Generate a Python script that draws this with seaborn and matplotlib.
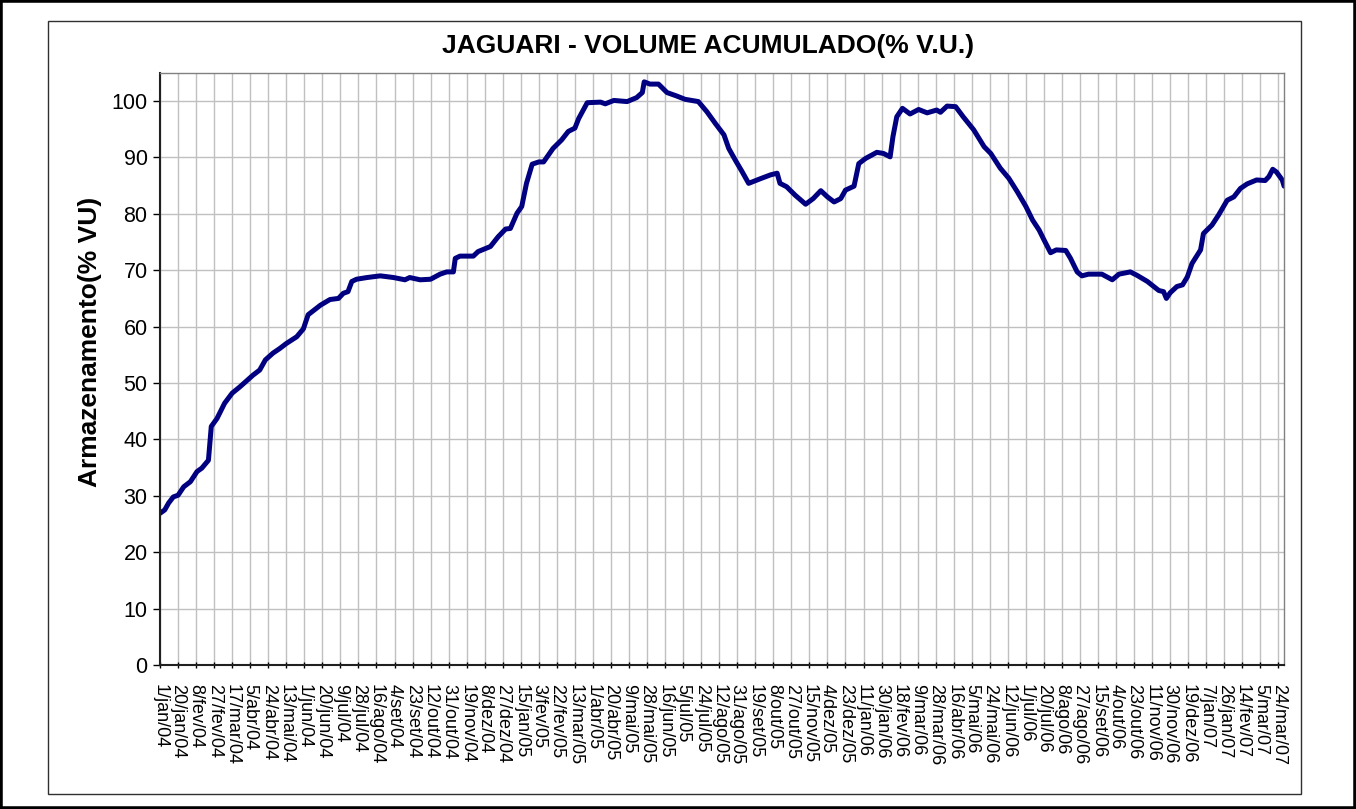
import pandas as pd
import matplotlib
matplotlib.use('Agg')
import matplotlib.pyplot as plt
import seaborn as sns
from matplotlib.patches import Rectangle

# dias desde 1/jan/04 e volume (% V.U.)
dias = [0, 5, 9, 14, 19, 25, 32, 39, 44, 51, 54, 60, 68, 76, 84, 98, 105, 111,
        119, 126, 133, 144, 151, 156, 169, 179, 188, 193, 198, 202, 207, 218,
        232, 246, 258, 263, 274, 285, 295, 302, 309, 311, 316, 330, 335, 348,
        356, 364, 369, 376, 381, 386, 392, 399, 404, 414, 423, 430, 437, 441,
        450, 464, 469, 478, 492, 502, 508, 510, 516, 525, 534, 544, 553, 567,
        576, 585, 594, 599, 606, 613, 620, 632, 643, 650, 653, 660, 669, 680,
        688, 696, 703, 710, 717, 722, 731, 736, 743, 755, 762, 769, 772, 776,
        782, 790, 799, 808, 818, 822, 829, 838, 846, 857, 868, 875, 885, 894,
        903, 912, 919, 926, 931, 938, 944, 954, 959, 966, 971, 978, 992, 1003,
        1010, 1022, 1029, 1040, 1052, 1057, 1060, 1064, 1071, 1077, 1082, 1087,
        1096, 1099, 1108, 1115, 1124, 1131, 1138, 1145, 1155, 1164, 1168, 1172,
        1176, 1182, 1184]
volume = [26.9, 27.5, 28.7, 29.8, 30.1, 31.6, 32.5, 34.3, 34.9, 36.3, 42.3, 43.7,
          46.4, 48.2, 49.3, 51.4, 52.3, 54.1, 55.3, 56.1, 57.0, 58.2, 59.6, 62.1,
          63.8, 64.8, 65.0, 65.9, 66.2, 68.0, 68.4, 68.7, 69.0, 68.7, 68.3, 68.7,
          68.3, 68.4, 69.3, 69.7, 69.7, 72.1, 72.5, 72.5, 73.3, 74.2, 75.9, 77.3,
          77.4, 80.1, 81.3, 85.4, 88.8, 89.2, 89.2, 91.6, 93.1, 94.6, 95.2, 96.9,
          99.7, 99.8, 99.5, 100.1, 99.9, 100.6, 101.5, 103.4, 103.0, 103.0, 101.5,
          100.9, 100.3, 99.9, 98.1, 96.0, 94.0, 91.6, 89.5, 87.5, 85.4, 86.2, 86.9,
          87.2, 85.4, 84.8, 83.3, 81.7, 82.7, 84.1, 83.0, 82.1, 82.7, 84.2, 84.9,
          88.9, 89.8, 90.9, 90.7, 90.1, 93.7, 97.2, 98.7, 97.7, 98.5, 97.9, 98.4,
          98.0, 99.1, 99.0, 97.2, 94.9, 91.9, 90.7, 88.1, 86.3, 83.9, 81.3, 78.9,
          77.1, 75.4, 73.1, 73.6, 73.5, 72.1, 69.7, 69.0, 69.3, 69.3, 68.3, 69.3,
          69.7, 69.1, 68.0, 66.4, 66.2, 65.0, 66.0, 67.1, 67.4, 68.8, 71.2, 73.6,
          76.5, 78.0, 79.8, 82.4, 83.0, 84.5, 85.3, 86.0, 85.9, 86.6, 87.9, 87.4,
          86.0, 84.9]

meses = ['jan', 'fev', 'mar', 'abr', 'mai', 'jun', 'jul', 'ago', 'set', 'out', 'nov', 'dez']
inicio = pd.Timestamp('2004-01-01')
fim_rotulos = pd.Timestamp('2007-03-24')

df = pd.DataFrame({'data': inicio + pd.to_timedelta(dias, unit='D'), 'volume': volume})

sns.set_style('white')
plt.rcParams['font.family'] = ['Liberation Sans', 'DejaVu Sans']
plt.rcParams['text.color'] = 'black'
plt.rcParams['xtick.color'] = 'black'
plt.rcParams['ytick.color'] = 'black'
plt.rcParams['axes.labelcolor'] = 'black'

fig = plt.figure(figsize=(13.56, 8.09), dpi=100)
ax = fig.add_axes([0.118, 0.178, 0.829, 0.732])

sns.lineplot(data=df, x='data', y='volume', ax=ax, color='#000080', linewidth=3.6)

ticks = pd.date_range(inicio, fim_rotulos, freq='19D')
ax.set_xticks(ticks)
ax.set_xticklabels([f"{d.day}/{meses[d.month - 1]}/{d:%y}" for d in ticks],
                   rotation=270, ha='center', va='top', fontsize=13)
ax.set_xlim(inicio, inicio + pd.Timedelta(days=1184))
ax.set_ylim(0, 105)
ax.set_yticks(range(0, 101, 10))
ax.tick_params(axis='y', labelsize=15.5, direction='out', length=5, width=1, pad=4, left=True)
ax.tick_params(axis='x', direction='inout', length=5, width=1, pad=11, bottom=True)

ax.grid(True, color='#c0c0c0', linewidth=1)
ax.set_axisbelow(True)
for s in ['top', 'right']:
    ax.spines[s].set_color('#808080')
    ax.spines[s].set_linewidth(1)
for s in ['left', 'bottom']:
    ax.spines[s].set_color('#202020')
    ax.spines[s].set_linewidth(1.5)

ax.set_xlabel('')
ax.set_ylabel('Armazenamento(% VU)', fontsize=19, fontweight='bold')
ax.yaxis.set_label_coords(-0.052, 0.545)

fig.text(0.5225, 0.943, 'JAGUARI - VOLUME ACUMULADO(% V.U.)', ha='center', va='center',
         fontsize=19, fontweight='bold')

# moldura interna e externa
fig.patches.append(Rectangle((0.0354, 0.0185), 0.924, 0.9555, transform=fig.transFigure,
                             fill=False, edgecolor='#303030', linewidth=1))
fig.patches.append(Rectangle((0, 0), 1, 1, transform=fig.transFigure,
                             fill=False, edgecolor='black', linewidth=4))

fig.savefig('out.png', dpi=100)
